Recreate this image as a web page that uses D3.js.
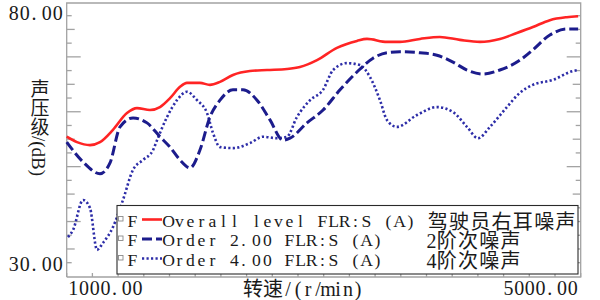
<!DOCTYPE html>
<html><head><meta charset="utf-8">
<script src="https://cdn.jsdelivr.net/npm/d3@7"></script>
<style>html,body{margin:0;padding:0;background:#fff;} svg{display:block}</style>
</head><body>
<svg id="chart" width="600" height="300"></svg>
<script>
// ---------- data ----------
const overallRpm = [1000,1080,1181,1259,1360,1469,1547,1648,1726,1804,1882,1936,2037,2115,2193,2294,2426,2559,2714,2815,2948,3103,3259,3337,3492,3593,3749,3904,4060,4216,4371,4503,4628,4760,4892,4980];
const overallDb  = [55.5,54.4,53.8,54.4,56.9,60.3,61.3,60.9,61.5,63.3,65.6,66.4,66.4,66.0,66.6,68.0,68.8,69.0,69.2,69.6,71.0,73.5,74.9,75.3,74.7,74.7,75.3,75.7,75.1,74.7,75.3,76.5,77.7,79.1,79.7,79.9];

const order2Rpm = [1000,1127,1259,1337,1415,1516,1625,1726,1804,1882,1960,2037,2115,2193,2294,2372,2481,2582,2683,2738,2870,2995,3127,3259,3384,3492,3593,3749,3881,4006,4115,4239,4371,4527,4628,4760,4892,4980];
const order2Db  = [54.4,50.4,48.0,50.2,57.5,59.3,58.3,55.5,53.4,50.8,49.2,52.8,59.5,62.9,65.0,65.0,62.9,58.9,54.8,55.2,58.3,60.9,65.0,68.6,71.4,72.5,72.7,72.5,72.0,70.6,69.0,68.2,69.0,71.0,73.1,76.1,77.3,77.3];

const order4Rpm = [1010,1049,1127,1181,1236,1282,1360,1438,1516,1594,1672,1703,1781,1858,1936,2014,2092,2138,2193,2294,2426,2528,2637,2714,2792,2894,2995,3073,3181,3282,3360,3438,3492,3570,3726,3881,4006,4115,4201,4294,4426,4527,4628,4783,4939,4980];
const order4Db  = [35.2,36.6,42.7,41.1,32.6,34.0,37.2,42.7,48.8,50.8,52.8,54.8,59.5,62.9,64.6,62.9,60.3,56.3,53.4,53.2,54.2,55.5,55.2,55.5,59.5,62.9,65.0,69.0,70.4,70.0,67.6,62.9,58.9,57.5,59.9,61.5,60.5,57.5,55.2,57.5,61.5,64.4,66.0,67.0,68.8,69.0];

const seriesPrefix = ["F","F","F"];
const seriesNames = ["Overall level FLR:S (A)","Order 2.00 FLR:S (A)","Order 4.00 FLR:S (A)"];
const seriesCn = ["驾驶员右耳噪声","2阶次噪声","4阶次噪声"];
const xDomain = [1000,5000];
const yDomain = [30,80];
const xTickValues = [1000,5000];
const xTickLabels = ["1000.00","5000.00"];
const yTickValues = [80,30];
const yTickLabels = ["80.00","30.00"];
const xTitle = "转速/(r/min)";
const yTitle = "声压级/(dB)";

// ---------- layout ----------
const L = 66.7, R = 580.7, T = 3, B = 277;
const svg = d3.select("#chart");
const x = d3.scaleLinear().domain(xDomain).range([L, R]);
const y = d3.scaleLinear().domain(yDomain).range([262.7, 15.7]);
const SERIF = "'Liberation Serif','Noto Sans CJK SC',serif";
const CJK = "'Liberation Serif','Noto Sans CJK SC',sans-serif";

// per-character x positions on a fixed-pitch grid (glyphs centred in cells)
function cellXs(parent, str, x0, o) {
  const sx = o.sx || 1;
  const probe = parent.append("text").style("font-family", o.family).style("font-size", o.size + "px");
  const chars = [...str];
  const cells = chars.map(ch => /[\u2E80-\u9FFF\uFF00-\uFFEF]/.test(ch) ? o.wide : o.pitch);
  const total = d3.sum(cells);
  let cx = o.align === "end" ? x0 - total : (o.align === "middle" ? x0 - total / 2 : x0);
  const xs = [];
  chars.forEach((ch, i) => {
    let w = 0;
    if (ch !== " ") { probe.text(ch); w = probe.node().getComputedTextLength() * sx; }
    const off = ch === "." ? cells[i] * 0.12 : (cells[i] - w) / 2;
    xs.push(((cx + off) / sx).toFixed(2));
    cx += cells[i];
  });
  probe.remove();
  return xs.join(" ");
}
function cellText(parent, str, x0, yb, o) {
  const sx = o.sx || 1;
  return parent.append("text")
    .attr("transform", `translate(0,${yb}) scale(${sx},1)`)
    .attr("x", cellXs(parent, str, x0, o)).attr("y", 0)
    .style("font-family", o.family).style("font-size", o.size + "px")
    .style("white-space", "pre")
    .attr("fill", o.fill || "#1a1a1a").text(str);
}

function draw() {
  const axisColor = "#a3a3a3";
  const frame = svg.append("g").attr("stroke", axisColor).attr("stroke-width", 1.3).attr("fill", "none");
  frame.append("path").attr("d", `M${L},${B}V${T}H${R}V${B}H${L}`);

  const nY = 18;
  const yt = d3.range(nY + 1).map(k => yDomain[1] - k * (yDomain[1] - yDomain[0]) / nY);
  const tickLen = k => (k % 2 === 0 ? 5 : (k % 4 === 1 ? 8 : 14));
  yt.forEach((v, k) => {
    const yy = y(v);
    frame.append("line").attr("x1", L).attr("x2", L + tickLen(k)).attr("y1", yy).attr("y2", yy);
    frame.append("line").attr("x1", R).attr("x2", R - tickLen(k)).attr("y1", yy).attr("y2", yy);
  });
  const xt = d3.range(xDomain[0], xDomain[1] + 1, 200);
  xt.forEach(v => {
    frame.append("line").attr("x1", x(v)).attr("x2", x(v)).attr("y1", B).attr("y2", B - 4);
  });

  const lineGen = d3.line().x(d => x(d[0])).y(d => y(d[1])).curve(d3.curveMonotoneX);
  const g = svg.append("g").attr("fill", "none").attr("stroke-linecap", "butt").attr("stroke-linejoin", "round");
  g.append("path").datum(d3.zip(order4Rpm, order4Db)).attr("d", lineGen)
    .attr("stroke", "#2d2da8").attr("stroke-width", 2.6).attr("stroke-dasharray", "2.2,2.3");
  g.append("path").datum(d3.zip(order2Rpm, order2Db)).attr("d", lineGen)
    .attr("stroke", "#1c1c8c").attr("stroke-width", 3).attr("stroke-dasharray", "10,4");
  g.append("path").datum(d3.zip(overallRpm, overallDb)).attr("d", lineGen)
    .attr("stroke", "#ff2424").attr("stroke-width", 2.6);

  const labG = svg.append("g");
  yTickValues.forEach((v, i) => {
    cellText(labG, yTickLabels[i], L - 3.4, y(v) + (i === 0 ? 4.5 : 8.5), {family: SERIF, size: 20, pitch: 11, align: "end"});
  });
  xTickValues.forEach((v, i) => {
    cellText(labG, xTickLabels[i], x(v) + (i === 0 ? 1.3 : -2.7), 295, {family: SERIF, size: 20, pitch: 10.7, align: i === 0 ? "start" : "end"});
  });

  cellText(labG, xTitle, 243, 296, {family: CJK, size: 20, pitch: 10, wide: 20});
  labG.append("text").attr("x", 38).attr("y", 79)
    .style("writing-mode", "vertical-rl").style("font-family", CJK).style("font-size", "19px")
    .attr("fill", "#1a1a1a").text(yTitle);

  // legend
  const lg = svg.append("g");
  lg.append("rect").attr("x", 117).attr("y", 205.5).attr("width", 461).attr("height", 68.5)
    .attr("fill", "#fff").attr("stroke", "#2a2a2a").attr("stroke-width", 1.1);
  const styles = [
    {stroke: "#ff2424", w: 2.6, dash: null},
    {stroke: "#1c1c8c", w: 3, dash: "10,4"},
    {stroke: "#2d2da8", w: 2.6, dash: "2.2,2.3"}
  ];
  seriesNames.forEach((name, i) => {
    const base = 226.5 + i * 19.5;
    lg.append("rect").attr("x", 118.5).attr("y", base - 10).attr("width", 4.5).attr("height", 4.5)
      .attr("fill", "#fff").attr("stroke", "#8a8a8a").attr("stroke-width", 0.9);
    const ln = lg.append("line").attr("x1", 142).attr("x2", 162).attr("y1", base - 7).attr("y2", base - 7)
      .attr("stroke", styles[i].stroke).attr("stroke-width", styles[i].w);
    if (styles[i].dash) ln.attr("stroke-dasharray", styles[i].dash);
    cellText(lg, seriesPrefix[i], 127, base, {family: SERIF, size: 17.6, pitch: 11});
    cellText(lg, name, 163, base, {family: SERIF, size: 17.6, pitch: 11});
    cellText(lg, seriesCn[i], 427, base + 2, {family: CJK, size: 20, pitch: 9, wide: 21.3});
  });
}
(document.fonts && document.fonts.ready ? document.fonts.ready : Promise.resolve()).then(draw);
</script>
</body></html>
